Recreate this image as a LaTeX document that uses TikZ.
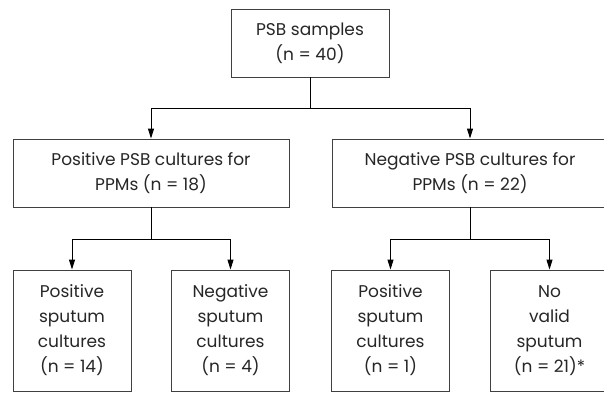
\documentclass[tikz,border=0pt]{standalone}
\usepackage{fontspec}
\setmainfont{Poppins}
\usetikzlibrary{arrows.meta}

\begin{document}
\begin{tikzpicture}[x=1pt,y=-1pt]
\colorlet{edge}{black!75}
\tikzset{box/.style={draw=edge,line width=0.9pt,align=center,inner sep=0pt,
    text=black!85,font=\fontsize{17}{25}\selectfont},
  link/.style={line width=0.9pt,-{Triangle[length=10pt,width=6pt]}}}
\useasboundingbox (0,0) rectangle (604,394);

% the sample set
\node[box,minimum width=158pt,minimum height=68pt] (samples) at (310,43) {PSB samples\\(n = 40)};

% PSB cultures, one box each
\node[box,minimum width=276pt,minimum height=68pt] (pos) at (151,173) {Positive PSB cultures for\\PPMs (n = 18)};
\node[box,minimum width=276pt,minimum height=68pt] (neg) at (470,173) {Negative PSB cultures for\\PPMs (n = 22)};

% sputum results under each culture box
\foreach \nm/\xx/\txt in {pospos/72/{Positive\\sputum\\cultures\\(n = 14)},
                          posneg/230.5/{Negative\\sputum\\cultures\\(n = 4)},
                          negpos/390.5/{Positive\\sputum\\cultures\\(n = 1)},
                          negnone/549.5/{No\\valid\\sputum\\(n = 21)*}}
{
    \node[box,minimum width=118pt,minimum height=121pt] (\nm) at (\xx,330.5) {\txt};
}

% connectors
\draw[link] (samples.south) -- ++(0,31) -| (pos.north);
\draw[link] (samples.south) -- ++(0,31) -| (neg.north);
\draw[link] (pos.south) -- ++(0,32) -| (pospos.north);
\draw[link] (pos.south) -- ++(0,32) -| (posneg.north);
\draw[link] (neg.south) -- ++(0,32) -| (negpos.north);
\draw[link] (neg.south) -- ++(0,32) -| (negnone.north);
\end{tikzpicture}
\end{document}
